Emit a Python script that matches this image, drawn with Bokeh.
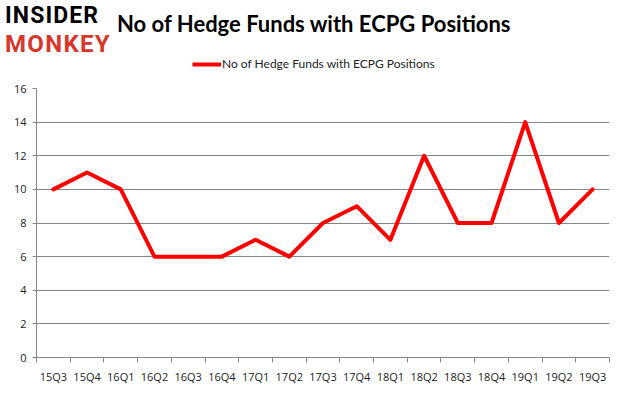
from bokeh.plotting import figure
from bokeh.models import Range1d, FixedTicker, Legend, LegendItem, Div
from bokeh.layouts import column
from bokeh.embed import file_html
from bokeh.resources import INLINE

quarters = ["15Q3", "15Q4", "16Q1", "16Q2", "16Q3", "16Q4", "17Q1", "17Q2", "17Q3",
            "17Q4", "18Q1", "18Q2", "18Q3", "18Q4", "19Q1", "19Q2", "19Q3"]
funds = [10, 11, 10, 6, 6, 6, 7, 6, 8, 9, 7, 12, 8, 8, 14, 8, 10]
y_ticks = [0, 2, 4, 6, 8, 10, 12, 14, 16]
series_name = "No of Hedge Funds with ECPG Positions"
title_text = "No of Hedge Funds with ECPG Positions"
logo_top = "INSIDER"
logo_bottom = "MONKEY"

W = 617
TOP_H = 52      # logo + title band
LEG_H = 28      # legend band
MAIN_H = 306
FRAME_L = 36
FRAME_R = 609
RED = "#FF0000"
LOGO_RED = "#D5372A"

# ---------- logo and title (HTML text, not aligned with the plot frame) ----------
top_html = f"""
<div style="position:relative;width:{W}px;height:{TOP_H}px;overflow:visible;">
  <span style="position:absolute;left:5px;top:6px;font-family:Roboto;font-weight:bold;
               font-size:23px;line-height:20px;letter-spacing:1.1px;color:#000000;
               white-space:nowrap;">{logo_top}</span>
  <span style="position:absolute;left:5px;top:34px;font-family:Roboto;font-weight:bold;
               font-size:24px;line-height:20px;letter-spacing:1.3px;color:{LOGO_RED};
               white-space:nowrap;">{logo_bottom}</span>
  <span style="position:absolute;left:117px;top:13px;font-family:Lato;font-weight:bold;
               font-size:22px;line-height:22px;color:#000000;
               white-space:nowrap;">{title_text}</span>
</div>
"""
top = Div(text=top_html, width=W, height=TOP_H, margin=0)

# ---------- legend band ----------
leg = figure(width=W, height=LEG_H, output_backend="svg", toolbar_location=None,
             x_range=Range1d(0, 1), y_range=Range1d(0, 1),
             x_axis_location=None, y_axis_location=None, title_location=None,
             min_border=0, min_border_left=FRAME_L, min_border_right=W - FRAME_R,
             min_border_top=0, min_border_bottom=0)
leg.grid.visible = False
leg.outline_line_color = None
leg.border_fill_color = "white"
leg.background_fill_color = "white"
proxy = leg.line(x=[-10, -9], y=[-10, -10], line_color=RED, line_width=4)
legend = Legend(items=[LegendItem(label=series_name, renderers=[proxy])],
                location=(192 - FRAME_L, 9), orientation="horizontal",
                label_text_font="Lato", label_text_font_size="12px",
                label_text_color="#222222", glyph_width=29, glyph_height=12,
                label_standoff=1, padding=0, margin=0, spacing=0,
                border_line_color=None, background_fill_alpha=0)
leg.add_layout(legend, "center")

# ---------- main chart ----------
n = len(quarters)
xs = [i + 0.5 for i in range(n)]

p = figure(width=W, height=MAIN_H, output_backend="svg", toolbar_location=None,
           x_range=Range1d(0, n), y_range=Range1d(0, 16), title_location=None,
           min_border_left=FRAME_L, min_border_right=W - FRAME_R,
           min_border_top=8, min_border_bottom=26)
p.outline_line_color = None
p.background_fill_color = "white"
p.border_fill_color = "white"

p.line(xs, funds, line_color=RED, line_width=4, line_join="round", line_cap="round")

p.xaxis.ticker = FixedTicker(ticks=xs, minor_ticks=list(range(n + 1)))
p.xaxis.major_label_overrides = {x: q for x, q in zip(xs, quarters)}
p.xaxis.major_tick_out = 0
p.xaxis.major_tick_in = 0
p.xaxis.minor_tick_out = 5
p.xaxis.minor_tick_in = 0
p.xaxis.minor_tick_line_color = "#868686"
p.xaxis.axis_line_color = "#868686"
p.xaxis.major_label_text_font = "Open Sans"
p.xaxis.major_label_text_font_size = "11px"
p.xaxis.major_label_text_color = "#222222"
p.xaxis.major_label_standoff = 6

p.yaxis.ticker = FixedTicker(ticks=y_ticks)
p.yaxis.major_tick_out = 4
p.yaxis.major_tick_in = 0
p.yaxis.minor_tick_out = 0
p.yaxis.minor_tick_in = 0
p.yaxis.major_tick_line_color = "#868686"
p.yaxis.axis_line_color = "#868686"
p.yaxis.major_label_text_font = "Open Sans"
p.yaxis.major_label_text_font_size = "11px"
p.yaxis.major_label_text_color = "#222222"
p.yaxis.major_label_standoff = 6

p.xgrid.grid_line_color = None
p.ygrid.grid_line_color = "#868686"
p.ygrid.ticker = FixedTicker(ticks=y_ticks)

layout = column(top, leg, p, spacing=0)
open("out.html", "w").write(file_html(layout, INLINE))
